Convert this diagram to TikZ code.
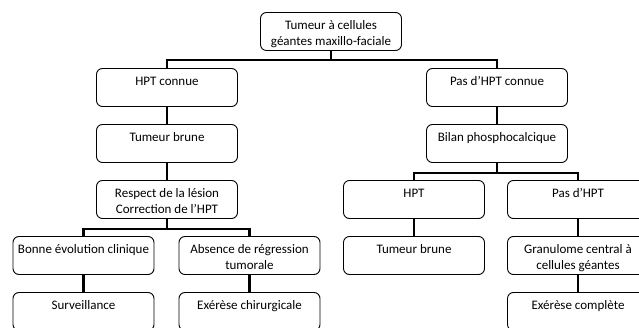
\documentclass[tikz,border=0pt]{standalone}
\usepackage{fontspec}
\setmainfont{Carlito}

\begin{document}
\begin{tikzpicture}[
font=\fontsize{13}{16}\selectfont,
box/.style={rectangle, rounded corners=6pt, minimum width=141pt, minimum height=38pt,
inner sep=0pt, draw=black, line width=0.9pt, node distance=56pt,
label={[anchor=north, align=center, inner sep=0pt, yshift=-8.5pt]north:#1}},
bar/.style={draw, line width=2.6pt}
]
\useasboundingbox (0pt,0pt) rectangle (639pt,-328pt);

\node [box={Tumeur à cellules\\géantes maxillo-faciale}] (tumeur) at (331pt,-31.5pt) {};
\node [box=HPT connue, below of=tumeur, xshift=-164pt] (hpt-connue) {};
\node [box=Tumeur brune, below of=hpt-connue] (brune-gauche) {};
\node [box={Respect de la lésion\\Correction de l’HPT}, below of=brune-gauche] (respect) {};
\node [box=Bonne évolution clinique, below of=respect, xshift=-83.5pt] (bonne-evol) {};
\node [box=Surveillance, below of=bonne-evol] (surveillance) {};
\node [box={Absence de régression\\tumorale}, below of=respect, xshift=82.5pt] (absence) {};
\node [box=Exérèse chirurgicale, below of=absence] (exerese-chir) {};

\node [box=Pas d’HPT connue, below of=tumeur, xshift=166pt] (pas-connue) {};
\node [box=Bilan phosphocalcique, below of=pas-connue] (bilan) {};
\node [box=HPT, below of=bilan, xshift=-83pt] (hpt) {};
\node [box=Tumeur brune, below of=hpt] (brune-droite) {};
\node [box=Pas d’HPT, below of=bilan, xshift=81pt] (pas-hpt) {};
\node [box={Granulome central à\\cellules géantes}, below of=pas-hpt] (granulome) {};
\node [box=Exérèse complète, below of=granulome] (exerese-compl) {};

\path [bar] (tumeur.south) -- ++(0,-9pt) -| (hpt-connue.north);
\path [bar] (tumeur.south) -- ++(0,-9pt) -| (pas-connue.north);
\path [bar] (hpt-connue) -- (brune-gauche);
\path [bar] (brune-gauche) -- (respect);
\path [bar] (respect.south) -- ++(0,-10pt) -| (bonne-evol.north);
\path [bar] (respect.south) -- ++(0,-10pt) -| (absence.north);
\path [bar] (bonne-evol) -- (surveillance);
\path [bar] (absence) -- (exerese-chir);
\path [bar] (pas-connue) -- (bilan);
\path [bar] (bilan.south) -- ++(0,-10pt) -| (hpt.north);
\path [bar] (bilan.south) -- ++(0,-10pt) -| (pas-hpt.north);
\path [bar] (hpt) -- (brune-droite);
\path [bar] (pas-hpt) -- (granulome);
\path [bar] (granulome) -- (exerese-compl);
\end{tikzpicture}
\end{document}
